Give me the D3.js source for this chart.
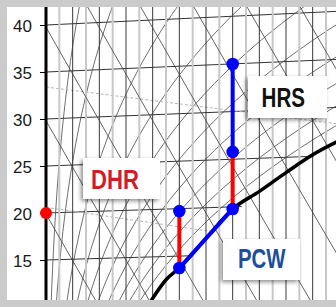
<!DOCTYPE html>
<html>
<head>
<meta charset="utf-8">
<script src="https://cdn.jsdelivr.net/npm/d3@7"></script>
<style>
  body { margin: 0; background: #fff; }
  svg { display: block; }
</style>
</head>
<body>
<svg id="svg" width="336" height="307"></svg>
<script>
const W = 336
const H = 307
const LEFT = 46
const TOP = 7
const BOTTOM = 300

// y axis: temperature at the dry-air edge, x: moisture content g/kg
const tempTicks = [15, 20, 25, 30, 35, 40]
const isoTemps = [15, 20, 25, 30, 35, 40]
const moistLines = [1, 2, 3, 4, 5, 6, 7, 8, 9, 10, 11, 12, 13, 14, 15, 16, 17, 18, 19, 20, 21]
const enthalpies = [10, 20, 30, 40, 50, 60, 70, 80, 90, 100]
const rhLevels = [0.05, 0.1, 0.2, 0.3, 0.4, 0.5, 0.6, 0.7, 0.8, 0.9]
// saturation vapour pressure table (degC -> kPa)
const psT = [8, 10, 12, 14, 16, 18, 20, 22, 24, 26, 28, 30, 32, 34, 36, 38, 40, 42, 44, 46, 48, 50]
const psKPa = [1.073, 1.228, 1.403, 1.599, 1.818, 2.064, 2.339, 2.645, 2.985, 3.363, 3.782, 4.246,
  4.759, 5.324, 5.947, 6.632, 7.384, 8.205, 9.108, 10.09, 11.17, 12.35]
// saturation curve
const satX = [7.9, 9.0, 10, 12, 14, 16, 18, 20, 22]
const satV = [10.7, 12.9, 14.15, 17.3, 20.43, 22.3, 24.3, 26.2, 27.7]
// dashed density lines (value at left edge, value at right edge)
const densStart = [33.4, 20.6]
const densEnd = [29.5, 16.1]

// process
const supplyV = 20
const dhrX = [10, 10]
const dhrV = [14.15, 20.2]
const pcwX = [10, 14]
const pcwV = [14.15, 20.43]
const hrsRedX = [14, 14]
const hrsRedV = [20.43, 26.5]
const hrsBlueX = [14, 14]
const hrsBlueV = [26.5, 35.85]
const dotX = [10, 10, 14, 14, 14]
const dotV = [20.2, 14.15, 20.43, 26.5, 35.85]
const labels = ['DHR', 'HRS', 'PCW']

const SKEW_A = 0.0262
const SKEW_B = 0.00101

const x = d3.scaleLinear().domain([0, 21.75]).range([LEFT, W])
const y = d3.scaleLinear().domain([15, 40]).range([260, 25])

function chartV (w, t) { return t + (SKEW_A + SKEW_B * t) * w }
function tempAtH (h, w) { return (h - 2.501 * w) / (1.006 + 0.00186 * w) }
function moist (rh, p) { return 622 * rh * p / (101.325 - rh * p) }

const svg = d3.select('#svg')
const defs = svg.append('defs')
defs.append('clipPath').attr('id', 'plot')
  .append('rect').attr('x', LEFT).attr('y', TOP).attr('width', W - LEFT).attr('height', BOTTOM - TOP)

const satPts = psT.map((t, i) => {
  const w = moist(1, psKPa[i])
  return [x(w), y(chartV(w, t))]
})
const dryPoly = [[-100, 400], [satPts[0][0], 400]].concat(satPts,
  [[satPts[satPts.length - 1][0], -300], [-100, -300]])
defs.append('clipPath').attr('id', 'dry')
  .append('polygon').attr('points', dryPoly.map(p => p.join(',')).join(' '))

const shadow = defs.append('filter').attr('id', 'shadow')
  .attr('x', '-30%').attr('y', '-30%').attr('width', '160%').attr('height', '160%')
shadow.append('feDropShadow').attr('dx', -2).attr('dy', 2).attr('stdDeviation', 2)
  .attr('flood-color', '#000').attr('flood-opacity', 0.45)

// frame
svg.append('rect').attr('width', W).attr('height', H).attr('fill', '#cbcbcb')
svg.append('rect').attr('x', 7).attr('y', TOP).attr('width', W - 7).attr('height', BOTTOM - TOP).attr('fill', '#fff')

const grid = svg.append('g').attr('clip-path', 'url(#plot)')
const dry = grid.append('g').attr('clip-path', 'url(#dry)')
const line = d3.line().x(d => x(d[0])).y(d => y(d[1]))

// constant moisture lines
grid.selectAll('line.moist')
  .data(moistLines)
  .join('line')
  .attr('class', 'moist')
  .attr('x1', d => x(d)).attr('x2', d => x(d))
  .attr('y1', TOP).attr('y2', BOTTOM)
  .attr('stroke', d => d % 2 ? '#c8c8c8' : '#3a3a3a')
  .attr('stroke-width', d => d % 2 ? 2 : 1)

// isenthalps
const ws = d3.range(0, 24, 1)
grid.selectAll('path.h')
  .data(enthalpies)
  .join('path')
  .attr('class', 'h')
  .attr('d', h => line(ws.map(w => [w, chartV(w, tempAtH(h, w))])))
  .attr('fill', 'none').attr('stroke', '#3c3c3c').attr('stroke-width', 0.8)

// isotherms, ending on saturation
const satW = d3.scaleLinear().domain(psT).range(psKPa.map(p => moist(1, p)))
dry.selectAll('path.t')
  .data(isoTemps)
  .join('path')
  .attr('class', 't')
  .attr('d', t => line([[0, t], [Math.min(satW(t), 23), chartV(Math.min(satW(t), 23), t)]]))
  .attr('fill', 'none').attr('stroke', '#333').attr('stroke-width', 1)

// relative humidity curves
const rhLine = d3.line().x(d => x(d[0])).y(d => y(d[1])).curve(d3.curveCatmullRom)
dry.selectAll('path.rh')
  .data(rhLevels)
  .join('path')
  .attr('class', 'rh')
  .attr('d', rh => rhLine(psT.map((t, i) => {
    const w = moist(rh, psKPa[i])
    return [w, chartV(w, t)]
  })))
  .attr('fill', 'none').attr('stroke', '#4a4a4a').attr('stroke-width', 0.8)

// density lines
dry.selectAll('path.rho')
  .data(densStart)
  .join('path')
  .attr('class', 'rho')
  .attr('d', (d, i) => line([[0, d], [21.75, densEnd[i]]]))
  .attr('fill', 'none').attr('stroke', '#b5b5b5').attr('stroke-width', 1)
  .attr('stroke-dasharray', '3,2')

// saturation curve
grid.append('path')
  .attr('d', d3.line().x((d, i) => x(satX[i])).y((d, i) => y(satV[i])).curve(d3.curveMonotoneX)(satX))
  .attr('fill', 'none').attr('stroke', '#000').attr('stroke-width', 3.5)

// axis
const axis = svg.append('g')
  .attr('transform', `translate(${LEFT},0)`)
  .call(d3.axisLeft(y).tickValues(tempTicks).tickSize(6).tickPadding(8).tickFormat(d3.format('d')))
axis.select('.domain').remove()
axis.selectAll('.tick line').attr('stroke', '#000')
axis.selectAll('.tick text')
  .attr('font-family', '"Liberation Sans", Arial, sans-serif')
  .attr('font-size', 17).attr('fill', '#1a1a1a').attr('dy', '0.4em')
svg.append('line')
  .attr('x1', LEFT).attr('x2', LEFT).attr('y1', TOP).attr('y2', BOTTOM)
  .attr('stroke', '#000').attr('stroke-width', 3)

// process lines
function seg (xs, vs, color) {
  svg.append('path')
    .attr('d', line(xs.map((d, i) => [d, vs[i]])))
    .attr('fill', 'none').attr('stroke', color).attr('stroke-width', 4)
}
seg(dhrX, dhrV, '#ff0000')
seg(hrsRedX, hrsRedV, '#ff0000')
seg(pcwX, pcwV, '#0000ff')
seg(hrsBlueX, hrsBlueV, '#0000ff')

svg.append('circle').attr('cx', x(0)).attr('cy', y(supplyV)).attr('r', 6).attr('fill', '#ff0000')
svg.selectAll('circle.pt')
  .data(dotX)
  .join('circle')
  .attr('class', 'pt')
  .attr('cx', d => x(d)).attr('cy', (d, i) => y(dotV[i]))
  .attr('r', 6.3).attr('fill', '#0000ff')

// labels
const notes = [
  { box: [83, 158, 77, 41], tx: 91, ty: 188.5, tw: 48, color: '#cf1f26' },
  { box: [248, 76, 79, 42], tx: 261.5, ty: 107, tw: 43.5, color: '#111' },
  { box: [223, 239, 77, 41], tx: 238, ty: 268, tw: 47.5, color: '#1d4e9b' }
]
labels.forEach((txt, i) => {
  const n = notes[i]
  const g = svg.append('g')
  g.append('rect')
    .attr('x', n.box[0]).attr('y', n.box[1]).attr('width', n.box[2]).attr('height', n.box[3])
    .attr('fill', '#fff').attr('filter', 'url(#shadow)')
  g.append('text')
    .attr('x', n.tx).attr('y', n.ty)
    .attr('textLength', n.tw).attr('lengthAdjust', 'spacingAndGlyphs')
    .attr('font-family', '"Liberation Sans Narrow", "Liberation Sans", Arial, sans-serif')
    .attr('font-weight', 'bold').attr('font-size', 27)
    .attr('fill', n.color)
    .text(txt)
})
</script>
</body>
</html>
